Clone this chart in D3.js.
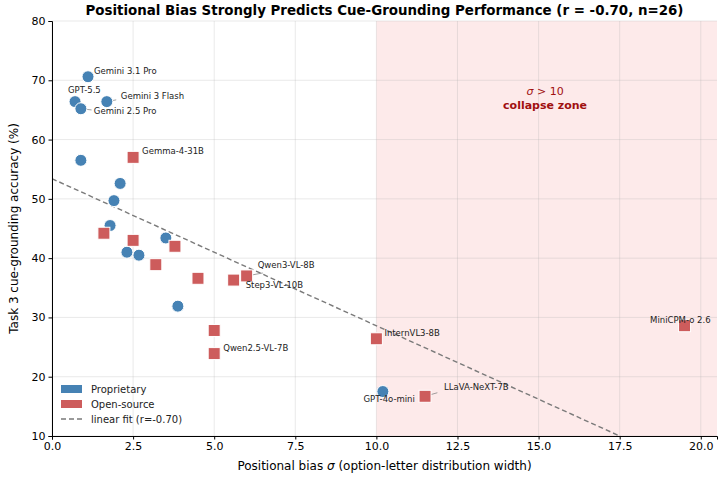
<!DOCTYPE html>
<html>
<head>
<meta charset="utf-8">
<script src="https://d3js.org/d3.v7.min.js"></script>
<style>
  body { margin: 0; background: #fff; }
  svg { font-family: "DejaVu Sans", sans-serif; }
</style>
</head>
<body>
<div id="my_dataviz"></div>
<script>

// proprietary models: sigma, accuracy, label
var propNames = ["Gemini 3.1 Pro", "GPT-5.5", "Gemini 2.5 Pro", "Gemini 3 Flash", "", "", "", "", "", "", "", "", "GPT-4o-mini"];
var propSigma = [1.11, 0.71, 0.89, 1.69, 0.89, 2.1, 1.91, 1.79, 2.31, 2.68, 3.51, 3.88, 10.2];
var propAcc   = [70.6, 66.4, 65.2, 66.4, 56.5, 52.6, 49.7, 45.5, 41.0, 40.5, 43.4, 31.9, 17.5];

// open-source models
var openNames = ["Gemma-4-31B", "", "", "", "", "", "Step3-VL-10B", "Qwen3-VL-8B", "", "Qwen2.5-VL-7B", "InternVL3-8B", "LLaVA-NeXT-7B", "MiniCPM-o 2.6"];
var openSigma = [2.5, 1.6, 2.5, 3.79, 3.2, 4.5, 5.6, 6.0, 5.0, 5.0, 10.0, 11.5, 19.5];
var openAcc   = [57.0, 44.2, 43.0, 42.0, 38.9, 36.6, 36.3, 37.0, 27.8, 23.9, 26.4, 16.7, 28.6];

// linear fit: intercept, slope
var fitIntercept = 53.4;
var fitSlope = -2.48;

var xTicks = [0, 2.5, 5, 7.5, 10, 12.5, 15, 17.5, 20];
var yTicks = [10, 20, 30, 40, 50, 60, 70, 80];

var margin = {top: 21, right: 8, bottom: 41, left: 52},
    width = 725 - margin.left - margin.right,
    height = 477 - margin.top - margin.bottom;

var svg = d3.select("#my_dataviz")
  .append("svg")
  .attr("width", 725)
  .attr("height", 477)
  .append("g")
  .attr("transform", "translate(" + margin.left + "," + margin.top + ")");

var x = d3.scaleLinear().domain([0, 20.5]).range([0, width]);
var y = d3.scaleLinear().domain([10, 80]).range([height, 0]);

svg.append("defs").append("clipPath").attr("id", "clip")
  .append("rect").attr("width", width).attr("height", height);

// collapse zone
svg.append("rect")
  .attr("x", x(10))
  .attr("y", 0)
  .attr("width", x(20.5) - x(10))
  .attr("height", height)
  .style("fill", "#fdeaea");

// grid
svg.append("g").selectAll("line").data(xTicks).enter().append("line")
  .attr("x1", function(d) { return x(d); })
  .attr("x2", function(d) { return x(d); })
  .attr("y1", 0).attr("y2", height)
  .style("stroke", "#b0b0b0").style("stroke-opacity", 0.35).style("stroke-width", 0.8);
svg.append("g").selectAll("line").data(yTicks).enter().append("line")
  .attr("y1", function(d) { return y(d); })
  .attr("y2", function(d) { return y(d); })
  .attr("x1", 0).attr("x2", width)
  .style("stroke", "#b0b0b0").style("stroke-opacity", 0.35).style("stroke-width", 0.8);

// zone text
svg.append("text")
  .attr("x", x(15.2)).attr("y", y(67.5))
  .attr("text-anchor", "middle")
  .style("font-size", "11px").style("fill", "#a01010")
  .html('<tspan font-style="italic">σ</tspan> &gt; 10');
svg.append("text")
  .attr("x", x(15.2)).attr("y", y(65.2))
  .attr("text-anchor", "middle")
  .style("font-size", "11px").style("font-weight", "bold").style("fill", "#a01010")
  .text("collapse zone");

// fit line
svg.append("line")
  .attr("clip-path", "url(#clip)")
  .attr("x1", x(0)).attr("y1", y(fitIntercept))
  .attr("x2", x(20.5)).attr("y2", y(fitIntercept + fitSlope * 20.5))
  .style("stroke", "#7a7a7a").style("stroke-width", 1.4)
  .style("stroke-dasharray", "5,3");

// axes
var xAxis = svg.append("g")
  .attr("transform", "translate(0," + height + ")")
  .call(d3.axisBottom(x).tickValues(xTicks).tickFormat(d3.format(".1f")).tickSize(3.5).tickPadding(3));
var yAxis = svg.append("g")
  .call(d3.axisLeft(y).tickValues(yTicks).tickSize(3.5).tickPadding(3));
[xAxis, yAxis].forEach(function(a) {
  a.selectAll("text").style("font-size", "11px").style("fill", "#000").style("font-family", "DejaVu Sans");
  a.selectAll("line").style("stroke", "#000");
  a.select(".domain").style("stroke", "#000");
});

// leader lines
var leaders = [
  [1.69, 66.4, 1.98, 66.7],
  [0.89, 65.2, 1.22, 65.0],
  [6.0, 37.0, 6.5, 37.5],
  [11.5, 16.7, 11.88, 17.3]
];
svg.append("g").selectAll("line").data(leaders).enter().append("line")
  .attr("x1", function(d) { return x(d[0]); })
  .attr("y1", function(d) { return y(d[1]); })
  .attr("x2", function(d) { return x(d[2]); })
  .attr("y2", function(d) { return y(d[3]); })
  .style("stroke", "#888").style("stroke-width", 0.8);

var propData = propSigma.map(function(s, i) { return {s: s, a: propAcc[i], n: propNames[i]}; });
var openData = openSigma.map(function(s, i) { return {s: s, a: openAcc[i], n: openNames[i]}; });

svg.append("g").selectAll("circle").data(propData).enter().append("circle")
  .attr("cx", function(d) { return x(d.s); })
  .attr("cy", function(d) { return y(d.a); })
  .attr("r", 6)
  .style("fill", "#4682b4").style("stroke", "#fff").style("stroke-width", 1);

svg.append("g").selectAll("rect").data(openData).enter().append("rect")
  .attr("x", function(d) { return x(d.s) - 6; })
  .attr("y", function(d) { return y(d.a) - 6; })
  .attr("width", 12).attr("height", 12)
  .style("fill", "#cd5c5c").style("stroke", "#fff").style("stroke-width", 1);

// point labels: offsets in pixels from point
var labelOffsets = {
  "Gemini 3.1 Pro": [6, -6, "start"],
  "GPT-5.5": [-7, -12, "start"],
  "Gemini 2.5 Pro": [13, 2.5, "start"],
  "Gemini 3 Flash": [14, -6, "start"],
  "GPT-4o-mini": [32, 7, "end"],
  "Gemma-4-31B": [9, -6, "start"],
  "Step3-VL-10B": [12, 4.5, "start"],
  "Qwen3-VL-8B": [11, -11, "start"],
  "Qwen2.5-VL-7B": [9, -6, "start"],
  "InternVL3-8B": [8, -6, "start"],
  "LLaVA-NeXT-7B": [19, -9, "start"],
  "MiniCPM-o 2.6": [26, -6, "end"]
};
var labelled = propData.concat(openData).filter(function(d) { return d.n !== ""; });
svg.append("g").selectAll("text").data(labelled).enter().append("text")
  .attr("x", function(d) { return x(d.s) + labelOffsets[d.n][0]; })
  .attr("y", function(d) { return y(d.a) + labelOffsets[d.n][1] + 3; })
  .attr("text-anchor", function(d) { return labelOffsets[d.n][2]; })
  .style("font-size", "8.5px").style("fill", "#222")
  .text(function(d) { return d.n; });

// legend
var legend = svg.append("g").attr("transform", "translate(9," + (height - 51) + ")");
legend.append("rect").attr("x", 0).attr("y", 0).attr("width", 21).attr("height", 8).style("fill", "#4682b4");
legend.append("rect").attr("x", 0).attr("y", 15).attr("width", 21).attr("height", 8).style("fill", "#cd5c5c");
legend.append("line").attr("x1", 0).attr("x2", 21).attr("y1", 34).attr("y2", 34)
  .style("stroke", "#7a7a7a").style("stroke-width", 1.4).style("stroke-dasharray", "5,3");
var legTexts = ["Proprietary", "Open-source", "linear fit (r=-0.70)"];
legend.selectAll("text.leg").data(legTexts).enter().append("text")
  .attr("x", 30)
  .attr("y", function(d, i) { return 8 + i * 15; })
  .style("font-size", "10px").style("fill", "#222")
  .text(function(d) { return d; });

// title
svg.append("text")
  .attr("x", width / 2)
  .attr("y", -6)
  .attr("text-anchor", "middle")
  .style("font-size", "13.4px").style("font-weight", "bold")
  .text("Positional Bias Strongly Predicts Cue-Grounding Performance (r = -0.70, n=26)");

// axis labels
svg.append("text")
  .attr("x", width / 2)
  .attr("y", height + 34)
  .attr("text-anchor", "middle")
  .style("font-size", "12px")
  .html('Positional bias <tspan font-style="italic">σ</tspan> (option-letter distribution width)');
svg.append("text")
  .attr("transform", "rotate(-90)")
  .attr("x", -height / 2)
  .attr("y", -34)
  .attr("text-anchor", "middle")
  .style("font-size", "12px")
  .text("Task 3 cue-grounding accuracy (%)");

</script>
</body>
</html>
